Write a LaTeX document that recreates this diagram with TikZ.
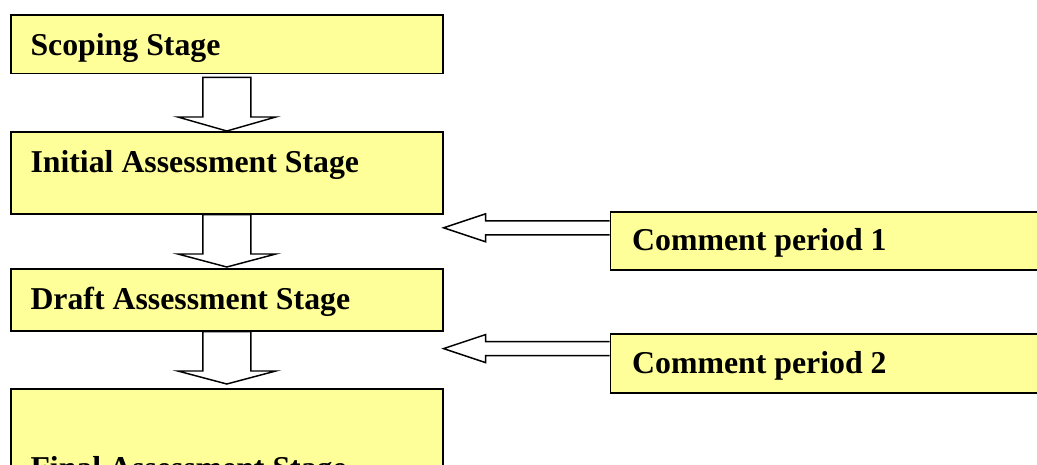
\documentclass[tikz,border=0pt]{standalone}
\usepackage{fontspec}
\setmainfont{Liberation Serif}
\usetikzlibrary{calc}

\definecolor{stageyellow}{RGB}{255,255,153}

\tikzset{every picture/.style={line width=0.75pt}}
\tikzset{
  stagebox/.style={draw=black, fill=stageyellow, line width=1.2pt, inner sep=0pt,
    anchor=north west, minimum width=324pt, minimum height=#1},
  commentbox/.style={stagebox=#1, minimum width=345pt},
  boxtext/.style={anchor=base west, inner sep=0pt,
    font=\fontsize{23.85pt}{28pt}\selectfont\bfseries},
  hollow/.style={draw=black, fill=white, line width=1.1pt, line join=miter},
}

\begin{document}
\begin{tikzpicture}[x=0.75pt,y=0.75pt,yscale=-1,xscale=1]
\useasboundingbox (0,0) rectangle (1037,464);
\clip (0,0) rectangle (1037,464);

% Stage boxes
\node[stagebox=44pt] (scope) at (10,14) {};
\node[stagebox=61.5pt] (init) at (10,131) {};
\node[stagebox=46.5pt] (draft) at (10,268) {};
\node[stagebox=90pt] (final) at (10,388) {};

% Comment boxes
\node[commentbox=43.5pt] (cp1) at (609.5,211) {};
\node[commentbox=44.25pt] (cp2) at (609.5,333.3) {};

% Text Node
\node[boxtext] (scopetxt) at ($(scope.north west)+(20,41)$) {Scoping Stage};
% Text Node
\node[boxtext] (inittxt) at ($(init.north west)+(20,41.7)$) {Initial Assessment Stage};
% Text Node
\node[boxtext] (drafttxt) at ($(draft.north west)+(20,41.3)$) {Draft Assessment Stage};
% Text Node
\node[boxtext] (finaltxt) at ($(final.north west)+(20,90)$) {Final Assessment Stage};
% Text Node
\node[boxtext] (cp1txt) at ($(cp1.north west)+(22.2,39.7)$) {Comment period 1};
% Text Node
\node[boxtext] (cp2txt) at ($(cp2.north west)+(22.2,40)$) {Comment period 2};

% Down arrow: scoping -> initial
\draw[hollow] ($(scope.south)+(-24,3)$) -- ($(init.north)+(-24,-14)$) -- ($(init.north)+(-49,-14)$)
  -- (init.north) -- ($(init.north)+(49,-14)$) -- ($(init.north)+(24,-14)$) -- ($(scope.south)+(24,3)$) -- cycle;
% Down arrow: initial -> draft
\draw[hollow] ($(init.south)+(-24,0)$) -- ($(draft.north)+(-24,-14)$) -- ($(draft.north)+(-49,-14)$)
  -- ($(draft.north)+(0,-1)$) -- ($(draft.north)+(49,-14)$) -- ($(draft.north)+(24,-14)$) -- ($(init.south)+(24,0)$) -- cycle;
% Down arrow: draft -> final
\draw[hollow] ($(draft.south)+(-24,0)$) -- ($(final.north)+(-24,-17)$) -- ($(final.north)+(-49,-17)$)
  -- ($(final.north)+(0,-4)$) -- ($(final.north)+(49,-17)$) -- ($(final.north)+(24,-17)$) -- ($(draft.south)+(24,0)$) -- cycle;

% Left arrow: comment period 1 -> initial
\coordinate (t1) at ($(cp1.west)+(0,-13)$);
\coordinate (tip1) at (init.east |- t1);
\draw[hollow] ($(t1)+(0,-7)$) -- ($(tip1)+(42,-7)$) -- ($(tip1)+(42,-14)$) -- (tip1)
  -- ($(tip1)+(42,14)$) -- ($(tip1)+(42,7)$) -- ($(t1)+(0,7)$);
% Left arrow: comment period 2 -> draft
\coordinate (t2) at ($(cp2.west)+(0,-15)$);
\coordinate (tip2) at (draft.east |- t2);
\draw[hollow] ($(t2)+(0,-7)$) -- ($(tip2)+(42,-7)$) -- ($(tip2)+(42,-14)$) -- (tip2)
  -- ($(tip2)+(42,14)$) -- ($(tip2)+(42,7)$) -- ($(t2)+(0,7)$);

\end{tikzpicture}
\end{document}
